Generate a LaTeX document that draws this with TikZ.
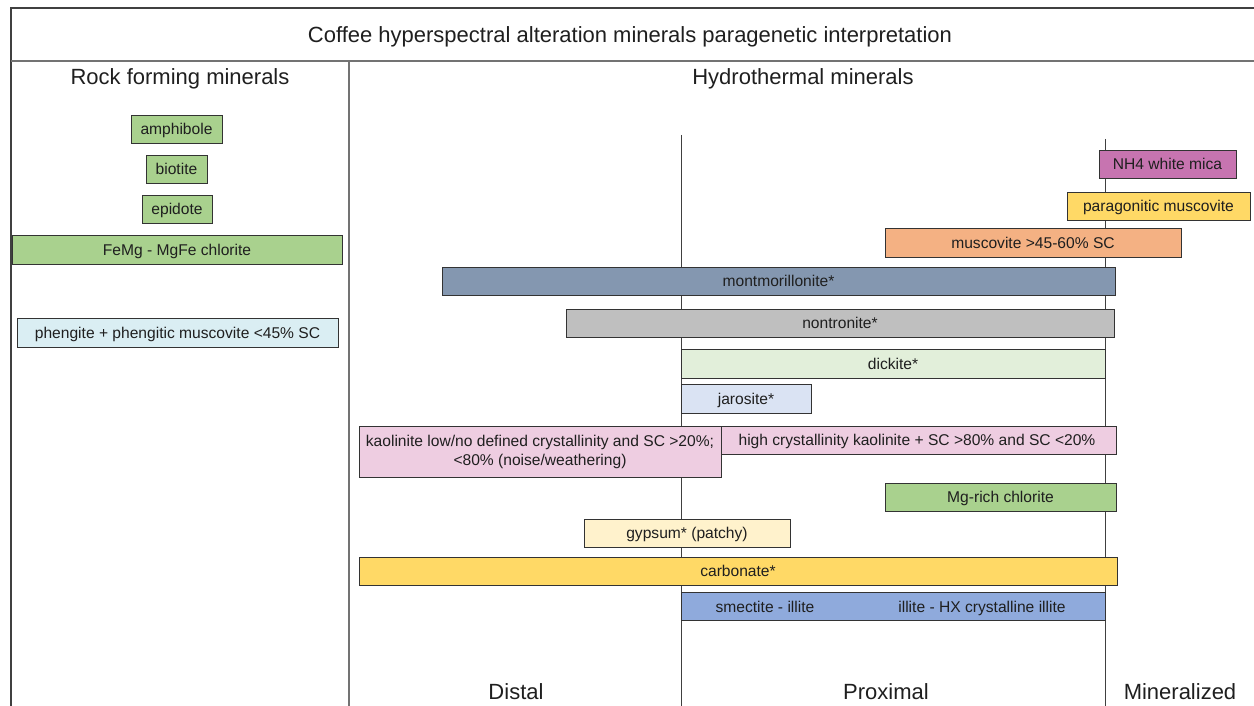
\documentclass[tikz,border=0pt]{standalone}
\usepackage{fontspec}
\setmainfont{Liberation Sans}
\begin{document}
\begin{tikzpicture}[x=1pt,y=-1pt,
  frame/.style={draw=black!75,line width=1.1pt},
  sep/.style={draw=black!55,line width=1.1pt},
  zone/.style={draw=black!75,line width=0.9pt},
  head/.style={font=\fontsize{22}{26}\selectfont,text=black!88,inner sep=0pt,text height=15.8pt,text depth=0pt},
  mboxbase/.style={draw=black!80,line width=0.9pt,font=\fontsize{15.6}{19}\selectfont,text=black!88,inner sep=0pt,align=center},
  mbox/.style={mboxbase,text height=11.2pt,text depth=0pt},
  lbl/.style={font=\fontsize{15.6}{19}\selectfont,text=black!88,inner sep=0pt,text height=11.2pt,text depth=0pt},
]
\definecolor{cgreen}{RGB}{169,209,142}
\definecolor{cphen}{RGB}{218,238,243}
\definecolor{cnh}{RGB}{199,116,176}
\definecolor{cyell}{RGB}{255,217,102}
\definecolor{corange}{RGB}{244,177,131}
\definecolor{cmont}{RGB}{132,151,176}
\definecolor{cnon}{RGB}{191,191,191}
\definecolor{cdick}{RGB}{226,239,218}
\definecolor{cjar}{RGB}{218,227,243}
\definecolor{ckao}{RGB}{238,205,225}
\definecolor{cgyp}{RGB}{255,242,204}
\definecolor{csme}{RGB}{143,170,220}
\useasboundingbox (0,0) rectangle (1254,706);
\clip (0,0) rectangle (1254,706);
% frame
\coordinate (fbl) at (11,706);
\coordinate (ftl) at (11,8);
\coordinate (ftr) at (1262,8);
\coordinate (tl) at (11,61);
\coordinate (tr) at (1262,61);
\coordinate (ct) at (349,61);
\coordinate (cb) at (349,706);
\draw[frame] (fbl) -- (ftl) -- (ftr);
\draw[sep] (tl) -- (tr);
\draw[sep] (ct) -- (cb);
% zone lines
\coordinate (z1t) at (681,135);
\coordinate (z1b) at (681,706);
\coordinate (z2t) at (1105,139);
\coordinate (z2b) at (1105,706);
\draw[zone] (z1t) -- (z1b);
\draw[zone] (z2t) -- (z2b);
% headings
\node[head] (title) at (630,34.5) {Coffee hyperspectral alteration minerals paragenetic interpretation};
\node[head] (rock) at (180,77) {Rock forming minerals};
\node[head] (hydro) at (803,77) {Hydrothermal minerals};
\node[head] (distal) at (516,691.5) {Distal};
\node[head] (prox) at (886,691.5) {Proximal};
\node[head] (mine) at (1180,691.5) {Mineralized};
% rock forming
\node[mbox,fill=cgreen,minimum width=91,minimum height=28] (amph) at (176.5,129) {amphibole};
\node[mbox,fill=cgreen,minimum width=61,minimum height=28] (biot) at (176.5,169) {biotite};
\node[mbox,fill=cgreen,minimum width=70,minimum height=28] (epid) at (177,209) {epidote};
\node[mbox,fill=cgreen,minimum width=330,minimum height=29] (femg) at (177,249.5) {FeMg - MgFe chlorite};
\node[mbox,fill=cphen,minimum width=321,minimum height=29] (phen) at (177.5,332.5) {phengite + phengitic muscovite <45\% SC};
% hydrothermal
\node[mbox,fill=cnh,minimum width=137,minimum height=28] (nh4) at (1167.5,164) {NH4 white mica};
\node[mbox,fill=cyell,minimum width=183,minimum height=28] (parag) at (1158.5,206) {paragonitic muscovite};
\node[mbox,fill=corange,minimum width=296,minimum height=29] (musc) at (1033,242.5) {muscovite >45-60\% SC};
\node[mbox,fill=cmont,minimum width=673,minimum height=28] (mont) at (778.5,281) {montmorillonite*};
\node[mbox,fill=cnon,minimum width=548,minimum height=28] (nont) at (840,323) {nontronite*};
\node[mbox,fill=cdick,minimum width=424,minimum height=29] (dick) at (893,363.5) {dickite*};
\node[mbox,fill=cjar,minimum width=130,minimum height=29] (jaro) at (746,398.5) {jarosite*};
\node[mbox,fill=ckao,minimum width=398,minimum height=28] (kaohi) at (917,440) {high crystallinity kaolinite + SC >80\% and SC <20\%};
\node[mboxbase,fill=ckao,minimum width=362,minimum height=51] (kaolo) at (540,452) {kaolinite low/no defined crystallinity and SC >20\%;\\<80\% (noise/weathering)};
\node[mbox,fill=cgreen,minimum width=231,minimum height=28] (mgchl) at (1000.5,497) {Mg-rich chlorite};
\node[mbox,fill=cgyp,minimum width=206,minimum height=28] (gyps) at (687,533) {gypsum* (patchy)};
\node[mbox,fill=cyell,minimum width=758,minimum height=28] (carb) at (738,571) {carbonate*};
\node[mbox,fill=csme,minimum width=424,minimum height=28] (smec) at (893,606) {};
\node[lbl] (smecA) at (765,607) {smectite - illite};
\node[lbl] (smecB) at (982,607) {illite - HX crystalline illite};
\end{tikzpicture}
\end{document}
